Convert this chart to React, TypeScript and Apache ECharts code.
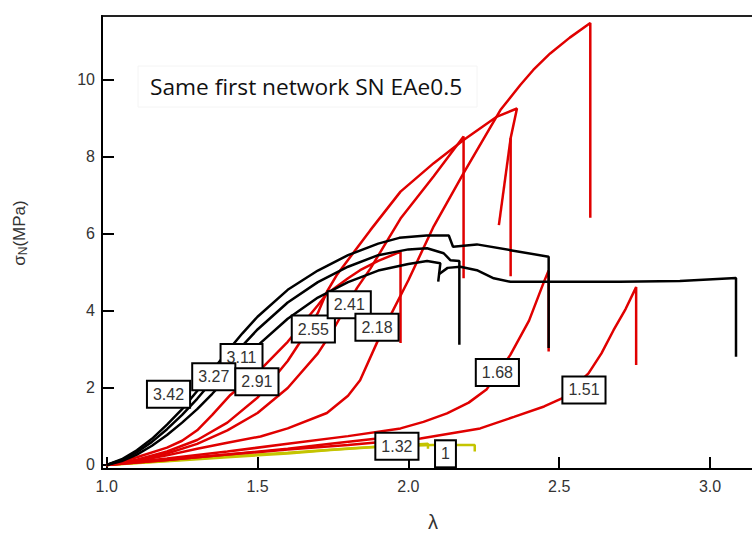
import React, { useEffect, useRef } from "react";
import * as echarts from "echarts";

// ---------- data (λ, σN in MPa) ----------
const xTicks = [1.0, 1.5, 2.0, 2.5, 3.0];
const yTicks = [0, 2, 4, 6, 8, 10];

const black342 = [[1,0],[1.05,0.15],[1.1,0.38],[1.15,0.68],[1.2,1.05],[1.25,1.45],[1.3,1.92],[1.355,2.5],[1.4,2.95],[1.45,3.42],[1.5,3.85],[1.6,4.55],[1.7,5.05],[1.8,5.45],[1.9,5.75],[1.97,5.9],[2.06,5.96],[2.134,5.96],[2.148,5.67],[2.227,5.73],[2.338,5.58],[2.465,5.41],[2.465,3.04]];
const black327 = [[1,0],[1.05,0.13],[1.1,0.33],[1.15,0.6],[1.2,0.93],[1.25,1.3],[1.3,1.72],[1.35,2.18],[1.4,2.65],[1.45,3.1],[1.5,3.52],[1.6,4.22],[1.7,4.75],[1.8,5.15],[1.9,5.45],[2.0,5.6],[2.062,5.63],[2.117,5.5],[2.139,5.32],[2.169,5.3],[2.169,3.12]];
const black311a = [[1,0],[1.05,0.1],[1.1,0.27],[1.15,0.5],[1.2,0.78],[1.25,1.1],[1.3,1.45],[1.35,1.85],[1.4,2.27],[1.45,2.7],[1.5,3.1],[1.6,3.8],[1.7,4.35],[1.8,4.75],[1.9,5.05],[2.0,5.22],[2.062,5.3],[2.106,5.24],[2.099,4.76]];
const black311b = [[2.1,4.95],[2.13,5.12],[2.172,5.15],[2.227,5.06],[2.283,4.85],[2.338,4.76],[2.5,4.76],[2.7,4.76],[2.9,4.78],[3.086,4.86],[3.086,2.81]];

const red291 = [[1,0],[1.1,0.2],[1.2,0.45],[1.25,0.63],[1.3,0.9],[1.35,1.3],[1.41,1.82],[1.5,2.4],[1.6,3.2],[1.7,4.15],[1.73,4.45],[1.8,4.85],[1.84,5.06],[1.9,5.3],[1.974,5.54],[1.974,3.17]];
const red255 = [[1,0],[1.1,0.14],[1.2,0.35],[1.3,0.65],[1.4,1.1],[1.5,1.75],[1.6,2.7],[1.65,3.3],[1.7,3.95],[1.73,4.5],[1.764,4.95],[1.874,6.1],[1.974,7.1],[2.084,7.84],[2.183,8.44],[2.294,9.05],[2.36,9.26],[2.339,8.49],[2.339,4.9]];
const red255b = [[2.339,8.49],[2.3,6.23]];
const red241 = [[1,0],[1.1,0.12],[1.2,0.3],[1.3,0.55],[1.4,0.9],[1.5,1.35],[1.6,2.0],[1.7,2.9],[1.75,3.5],[1.8,4.2],[1.83,4.6],[1.874,5.1],[1.974,6.4],[2.084,7.5],[2.183,8.53],[2.183,4.85]];
const red218 = [[1,0],[1.1,0.1],[1.2,0.25],[1.3,0.42],[1.4,0.58],[1.51,0.74],[1.6,0.95],[1.73,1.35],[1.8,1.8],[1.84,2.2],[1.9,3.25],[1.95,4.03],[2.0,4.8],[2.084,6.2],[2.183,7.58],[2.305,9.22],[2.371,9.87],[2.414,10.26],[2.47,10.69],[2.535,11.1],[2.603,11.48],[2.603,6.42]];
const red168 = [[1,0],[1.2,0.17],[1.4,0.35],[1.6,0.55],[1.8,0.75],[1.974,0.95],[2.05,1.12],[2.128,1.34],[2.2,1.62],[2.26,1.97],[2.338,2.86],[2.4,3.75],[2.449,4.75],[2.465,5.05],[2.465,2.95]];
const red151 = [[1,0],[1.2,0.13],[1.4,0.27],[1.6,0.4],[1.8,0.52],[2.04,0.69],[2.238,0.95],[2.35,1.25],[2.45,1.52],[2.509,1.73],[2.597,2.38],[2.64,2.9],[2.68,3.5],[2.72,4.05],[2.755,4.62],[2.755,2.6]];
const red132 = [[1,0],[1.2,0.13],[1.4,0.27],[1.6,0.42],[1.742,0.55],[1.89,0.68],[1.96,0.72]];
const yellow1a = [[1,0],[1.2,0.1],[1.4,0.2],[1.6,0.3],[1.742,0.39],[1.89,0.47],[2.0,0.5],[2.08,0.52],[2.22,0.52],[2.22,0.35]];
const yellow1b = [[1,0],[1.2,0.11],[1.4,0.22],[1.6,0.32],[1.8,0.43],[1.95,0.5],[2.065,0.55],[2.065,0.42]];

const tagNames = ["3.11", "3.27", "2.91", "3.42", "2.55", "2.41", "2.18", "1.68", "1.51", "1.32", "1"];
const tagX = [1.447, 1.355, 1.498, 1.205, 1.685, 1.804, 1.896, 2.295, 2.582, 1.962, 2.123];
const tagY = [2.79, 2.29, 2.16, 1.84, 3.53, 4.16, 3.58, 2.4, 1.95, 0.485, 0.29];

const titleText = "Same first network SN EAe0.5";

const RED = "#e00000";
const BLACK = "#000000";
const YELLOW = "#c4c400";
const FONT = "'Liberation Sans', Arial, sans-serif";

export default function App() {
  const ref = useRef<HTMLDivElement>(null);
  useEffect(() => {
    document.body.style.margin = "0";
    if (!ref.current) return;
    const chart = echarts.init(ref.current, null, { renderer: "svg" });
    const line = (data: number[][], color: string, width = 2.5) => ({
      type: "line",
      data,
      symbol: "none",
      showSymbol: false,
      silent: true,
      lineStyle: { color, width },
      z: 2,
    });
    const option: any = {
      animation: false,
      backgroundColor: "#ffffff",
      grid: {
        left: 102,
        top: 16,
        width: 668.4,
        height: 453,
        show: true,
        borderColor: "#222",
        borderWidth: 2,
        containLabel: false,
        outerBoundsMode: "none",
      },
      xAxis: {
        type: "value",
        min: 0.9845,
        max: 3.2,
        axisLine: { show: true, onZero: false, lineStyle: { color: "#000", width: 2 } },
        axisTick: { show: true, inside: true, length: 12, customValues: xTicks, lineStyle: { color: "#000", width: 2 } },
        axisLabel: {
          show: true,
          customValues: xTicks,
          formatter: (v: number) => v.toFixed(1),
          fontSize: 16,
          fontFamily: FONT,
          color: "#333",
          margin: 9,
        },
        splitLine: { show: false },
      },
      yAxis: {
        type: "value",
        min: -0.104,
        max: 11.662,
        axisLine: { show: true, onZero: false, lineStyle: { color: "#000", width: 2 } },
        axisTick: { show: true, inside: true, length: 12, customValues: yTicks, lineStyle: { color: "#000", width: 2 } },
        axisLabel: {
          show: true,
          customValues: yTicks,
          formatter: (v: number) => String(v),
          fontSize: 16,
          fontFamily: FONT,
          color: "#333",
          margin: 7,
        },
        splitLine: { show: false },
      },
      graphic: [
        {
          type: "rect",
          shape: { x: 138, y: 66, width: 339, height: 41 },
          style: { fill: "none", stroke: "#f4f4f4", lineWidth: 1 },
          z: 1,
        },
        {
          type: "text",
          x: 150,
          y: 75,
          style: {
            text: titleText,
            fontSize: 22.7,
            fontFamily: "'Open Sans', 'Noto Sans', sans-serif",
            fill: "#111",
            align: "left",
            verticalAlign: "top",
          },
          z: 5,
        },
        {
          type: "text",
          x: 19,
          y: 233,
          rotation: Math.PI / 2,
          style: {
            text: "{s|σ}{n|N}{s|(MPa)}",
            align: "center",
            verticalAlign: "middle",
            rich: {
              s: { fontSize: 17, fontFamily: FONT, fill: "#333" },
              n: { fontSize: 12, fontFamily: FONT, fill: "#333", padding: [7, 0, 0, 0] },
            },
          },
        },
        {
          type: "text",
          x: 433,
          y: 522,
          style: {
            text: "λ",
            fontSize: 20,
            fontFamily: FONT,
            fill: "#333",
            align: "center",
            verticalAlign: "middle",
          },
        },
      ],
      series: [
        line(yellow1b, YELLOW),
        line(yellow1a, YELLOW),
        line(red132, RED),
        line(red151, RED),
        line(red168, RED),
        line(red218, RED),
        line(red241, RED),
        line(red255, RED),
        line(red255b, RED),
        line(red291, RED),
        line(black311a, BLACK),
        line(black311b, BLACK),
        line(black327, BLACK),
        line(black342, BLACK),
        {
          type: "scatter",
          silent: true,
          symbolSize: 0,
          z: 10,
          itemStyle: { opacity: 1, color: "#fff" },
          data: tagNames.map((n, i) => ({ name: n, value: [tagX[i], tagY[i]] })),
          label: {
            show: true,
            position: "inside",
            formatter: (p: any) => p.name,
            fontSize: 16,
            fontFamily: FONT,
            color: "#333",
            opacity: 1,
            textBorderWidth: 0,
            textBorderColor: "transparent",
            backgroundColor: "#ffffff",
            borderColor: "#000",
            borderWidth: 2,
            padding: [5, 5, 4, 5],
          },
          labelLayout: { hideOverlap: false },
        },
      ],
    };
    chart.setOption(option);
    return () => chart.dispose();
  }, []);
  return <div ref={ref} style={{ width: 752, height: 539 }} />;
}
